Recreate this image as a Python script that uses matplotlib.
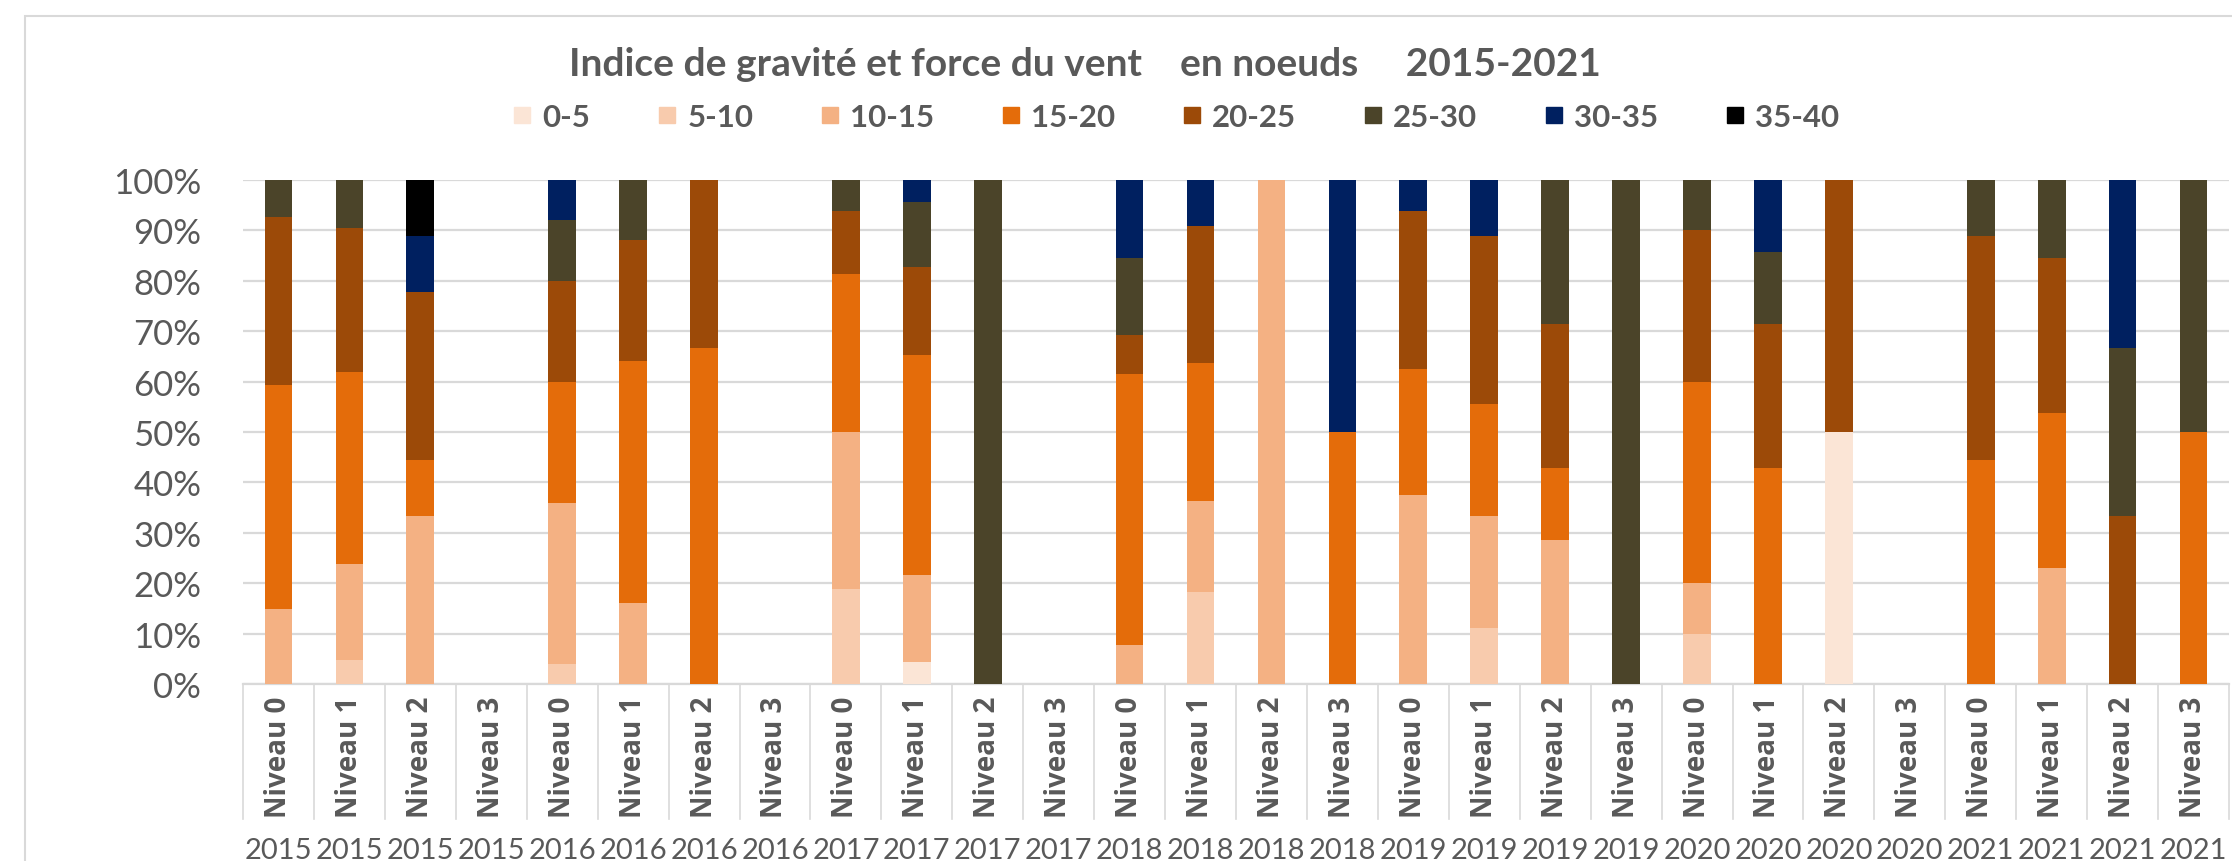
#!/usr/bin/env python3
"""
plot.py — Indice de gravité et force du vent en noeuds 2015-2021
(barres empilées à 100 %, une barre par année et par niveau).
"""

import numpy as np
import matplotlib
matplotlib.use('Agg')
import matplotlib.pyplot as plt
from matplotlib.lines import Line2D
from matplotlib.patches import Rectangle
from matplotlib.ticker import PercentFormatter, MultipleLocator

# --- données (pourcentages) ---
annees = ['2015', '2016', '2017', '2018', '2019', '2020', '2021']
niveaux = ['Niveau 0', 'Niveau 1', 'Niveau 2', 'Niveau 3']

classes_vent = ['0-5', '5-10', '10-15', '15-20', '20-25', '25-30', '30-35', '35-40']

s_0_5 = [0, 0, 0, 0,  0, 0, 0, 0,  0, 4.3, 0, 0,  0, 0, 0, 0,
         0, 0, 0, 0,  0, 0, 50.0, 0,  0, 0, 0, 0]
s_5_10 = [0, 4.8, 0, 0,  4.0, 0, 0, 0,  18.8, 0, 0, 0,  0, 18.2, 0, 0,
          0, 11.1, 0, 0,  10.0, 0, 0, 0,  0, 0, 0, 0]
s_10_15 = [14.8, 19.0, 33.3, 0,  32.0, 16.0, 0, 0,  31.2, 17.4, 0, 0,
           7.7, 18.2, 100.0, 0,  37.5, 22.2, 28.6, 0,  10.0, 0, 0, 0,
           0, 23.1, 0, 0]
s_15_20 = [44.4, 38.1, 11.1, 0,  24.0, 48.0, 66.7, 0,  31.2, 43.5, 0, 0,
           53.8, 27.3, 0, 50.0,  25.0, 22.2, 14.3, 0,  40.0, 42.9, 0, 0,
           44.4, 30.8, 0, 50.0]
s_20_25 = [33.3, 28.6, 33.3, 0,  20.0, 24.0, 33.3, 0,  12.5, 17.4, 0, 0,
           7.7, 27.3, 0, 0,  31.2, 33.3, 28.6, 0,  30.0, 28.6, 50.0, 0,
           44.4, 30.8, 33.3, 0]
s_25_30 = [7.4, 9.5, 0, 0,  12.0, 12.0, 0, 0,  6.2, 13.0, 100.0, 0,
           15.4, 0, 0, 0,  0, 0, 28.6, 100.0,  10.0, 14.3, 0, 0,
           11.1, 15.4, 33.3, 50.0]
s_30_35 = [0, 0, 11.1, 0,  8.0, 0, 0, 0,  0, 4.3, 0, 0,  15.4, 9.1, 0, 50.0,
           6.2, 11.1, 0, 0,  0, 14.3, 0, 0,  0, 0, 33.3, 0]
s_35_40 = [0, 0, 11.1, 0,  0, 0, 0, 0,  0, 0, 0, 0,  0, 0, 0, 0,
           0, 0, 0, 0,  0, 0, 0, 0,  0, 0, 0, 0]

couleurs = ['#FBE5D6', '#F8CBAD', '#F4B183', '#E46C0A',
            '#9C4A08', '#4B4429', '#002060', '#000000']

GRIS = '#595959'
GRILLE = '#D9D9D9'
W, H = 2232, 862


def main():
    series = np.array([s_0_5, s_5_10, s_10_15, s_15_20,
                       s_20_25, s_25_30, s_30_35, s_35_40], dtype=float)
    # empilement normalisé à 100 % (comme Excel)
    tot = series.sum(axis=0)
    pct = np.divide(series, tot, out=np.zeros_like(series), where=tot > 0) * 100

    cat_niv = [n for a in annees for n in niveaux]
    cat_an = [a for a in annees for n in niveaux]
    x = np.arange(len(cat_niv))

    fig = plt.figure(figsize=(W / 100, H / 100), dpi=100)
    fig.patch.set_facecolor('white')
    ax = fig.add_axes([243 / W, 1 - 685 / H, 1986 / W, 504 / H])

    bottom = np.zeros(len(x))
    for vals, col in zip(pct, couleurs):
        ax.bar(x, vals, bottom=bottom, width=0.39, color=col, linewidth=0, zorder=3)
        bottom += vals

    ax.set_xlim(-0.5, len(x) - 0.5)
    ax.set_ylim(0, 100)
    ax.yaxis.set_major_locator(MultipleLocator(10))
    ax.yaxis.set_major_formatter(PercentFormatter(decimals=0))
    ax.grid(axis='y', color=GRILLE, linewidth=1.6, zorder=0)
    for s in ['top', 'right', 'left']:
        ax.spines[s].set_visible(False)
    ax.spines['bottom'].set_color(GRILLE)
    ax.spines['bottom'].set_linewidth(1.6)
    ax.tick_params(axis='y', length=0, pad=30, labelsize=25, labelcolor=GRIS)
    for lab in ax.get_yticklabels():
        lab.set_fontfamily('Lato')
    ax.set_xticks([])

    # axe des catégories sur deux niveaux
    trans = ax.get_xaxis_transform()
    for i in range(len(x) + 1):
        ax.plot([i - 0.5, i - 0.5], [0, -135 / 504], transform=trans,
                color=GRILLE, linewidth=1.2, clip_on=False)
    for i in x:
        ax.text(i, -72 / 504, cat_niv[i], transform=trans, rotation=90,
                ha='center', va='center', fontsize=20, fontweight='bold',
                color=GRIS, family='Open Sans')
        ax.text(i, -166 / 504, cat_an[i], transform=trans,
                ha='center', va='center', fontsize=21,
                color=GRIS, family='Lato')

    # cadre de la zone de graphique
    fig.patches.append(Rectangle((25 / W, -0.05), 1.2, 1 - 17 / H + 0.05,
                                 transform=fig.transFigure, fill=False,
                                 edgecolor=GRILLE, linewidth=1.5))

    fig.text(1085 / W, 1 - 64 / H,
             'Indice de gravité et force du vent    en noeuds     2015-2021',
             ha='center', va='center', fontsize=28, fontweight='bold',
             color=GRIS, family='Lato')

    poignees = [Line2D([], [], marker='s', linestyle='none', markersize=11,
                       markerfacecolor=c, markeredgecolor=c) for c in couleurs]
    leg = fig.legend(poignees, classes_vent, loc='center', ncol=8,
                     bbox_to_anchor=(1176 / W, 1 - 118 / H), frameon=False,
                     handlelength=0.6, handletextpad=0.35, columnspacing=2.15,
                     prop={'family': 'Lato', 'weight': 'bold', 'size': 22.5})
    for t in leg.get_texts():
        t.set_color(GRIS)

    fig.savefig('out.png', dpi=100, facecolor='white')


if __name__ == '__main__':
    main()
